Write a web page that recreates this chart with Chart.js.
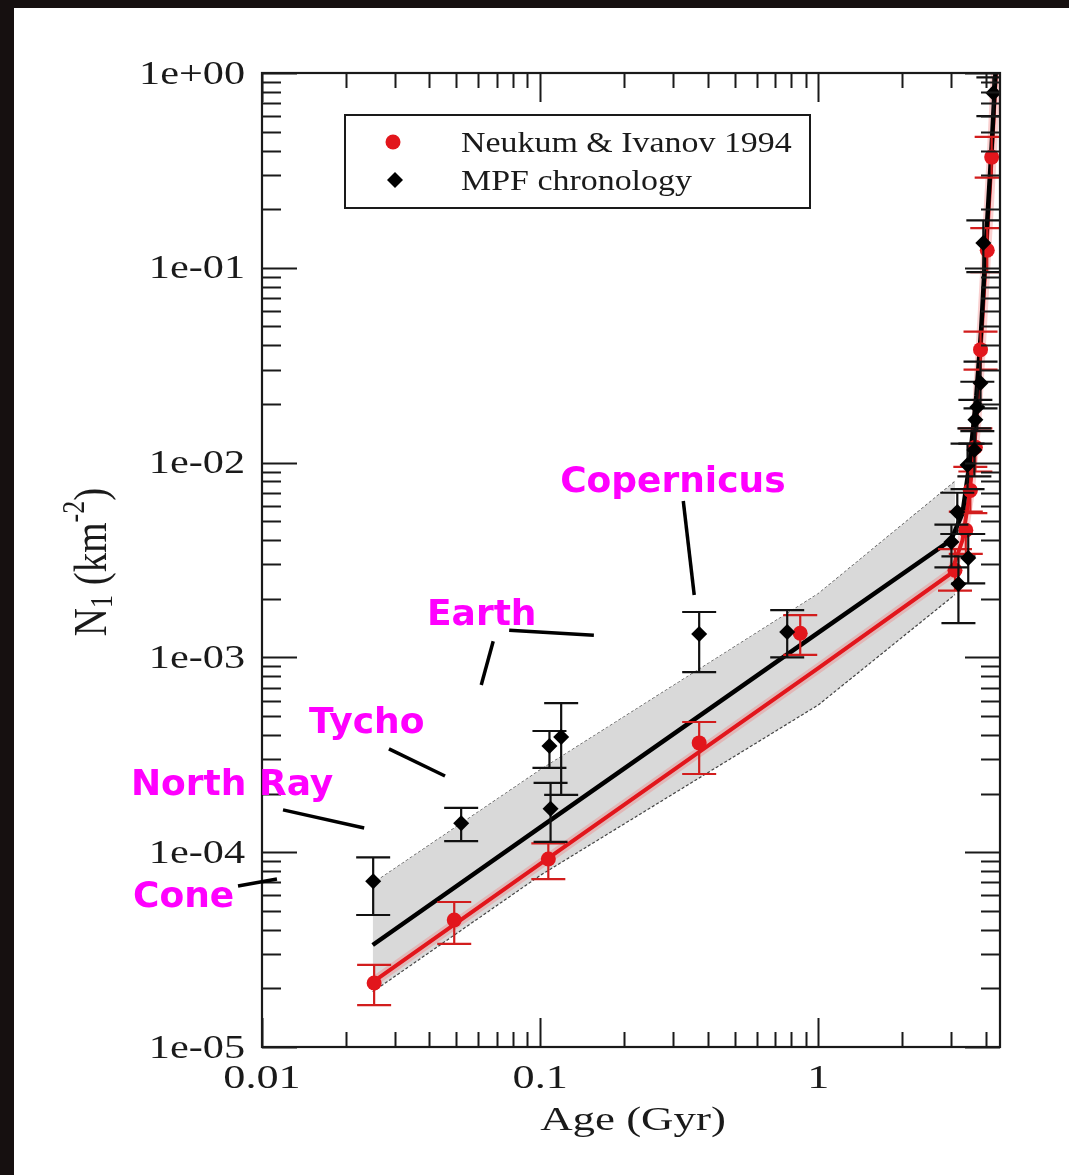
<!DOCTYPE html>
<html>
<head>
<meta charset="utf-8">
<script src="https://cdn.jsdelivr.net/npm/chart.js@4.4.0/dist/chart.umd.min.js"></script>
<style>
  html, body { margin:0; padding:0; background:#161010; }
  #wrap { position:absolute; left:14px; top:8px; width:1055px; height:1167px; background:#fff; }
  canvas { display:block; }
</style>
</head>
<body>
<div id="wrap"><canvas id="mycanvas" width="1055" height="1167"></canvas></div>
<script>
// MPF chronology points (black diamonds)
var mpfAge = [0.0251, 0.052, 0.108, 0.119, 0.109, 0.373, 0.773, 3.01, 3.19, 3.46, 3.16, 3.44, 3.64, 3.67, 3.73, 3.83, 3.92, 4.26];
var mpfN   = [7.1e-5, 1.41e-4, 3.51e-4, 3.90e-4, 1.67e-4, 1.32e-3, 1.35e-3, 3.91e-3, 2.38e-3, 3.24e-3, 5.57e-3, 9.72e-3, 1.16e-2, 1.66e-2, 1.93e-2, 2.56e-2, 0.134, 0.789];
var mpfLo  = [4.76e-5, 1.14e-4, 2.71e-4, 1.97e-4, 1.13e-4, 8.4e-4, 1.0e-3, 2.9e-3, 1.5e-3, 2.4e-3, 4.3e-3, 7.3e-3, 8.5e-3, 1.25e-2, 1.45e-2, 1.9e-2, 0.095, 0.6];
var mpfHi  = [9.4e-5, 1.69e-4, 4.19e-4, 5.83e-4, 2.27e-4, 1.71e-3, 1.75e-3, 4.8e-3, 3.3e-3, 4.3e-3, 7.0e-3, 1.25e-2, 1.5e-2, 2.1e-2, 2.6e-2, 3.3e-2, 0.175, 0.95];

// Neukum & Ivanov 1994 points (red)
var niAge = [0.0253, 0.0491, 0.107, 0.373, 0.861, 3.10, 3.39, 3.52, 3.67, 3.83, 4.05, 4.20];
var niN   = [2.13e-5, 4.49e-5, 9.23e-5, 3.64e-4, 1.33e-3, 2.8e-3, 4.5e-3, 7.2e-3, 1.2e-2, 3.8e-2, 0.123, 0.37];
var niLo  = [1.64e-5, 3.38e-5, 7.28e-5, 2.52e-4, 1.03e-3, 2.2e-3, 3.4e-3, 5.5e-3, 9.0e-3, 3.0e-2, 0.095, 0.29];
var niHi  = [2.64e-5, 5.55e-5, 1.11e-4, 4.66e-4, 1.65e-3, 3.6e-3, 5.6e-3, 9.5e-3, 1.5e-2, 4.7e-2, 0.16, 0.47];

// curves
var lineAge = [0.025, 0.1, 1, 3.0, 3.3, 3.5, 3.7, 3.85, 4.0, 4.2, 4.35];
var mpfLineN = [3.34e-5, 1.34e-4, 1.34e-3, 4.0e-3, 5.5e-3, 1.0e-2, 2.2e-2, 4.8e-2, 0.13, 0.42, 1.1];
var niLineN  = [2.15e-5, 8.7e-5, 8.8e-4, 2.7e-3, 4.0e-3, 7.0e-3, 1.6e-2, 4.2e-2, 0.11, 0.37, 1.0];

// grey uncertainty band
var bandAge   = [0.025, 0.1, 1, 3.1];
var bandUpper = [6.9e-5, 2.64e-4, 2.12e-3, 8.0e-3];
var bandLower = [1.92e-5, 7.6e-5, 5.7e-4, 2.1e-3];

var xTicks = [0.01, 0.1, 1];
var xTickLabels = ['0.01', '0.1', '1'];
var yTicks = [1e-5, 1e-4, 1e-3, 1e-2, 1e-1, 1];
var yTickLabels = ['1e-05', '1e-04', '1e-03', '1e-02', '1e-01', '1e+00'];

// crater labels: text anchor (left, baseline) and leader lines, in data units
var craterNames = ['Copernicus', 'Earth', 'Tycho', 'North Ray', 'Cone'];
var craterTextAge = [0.118, 0.0392, 0.01476, 0.00338, 0.00344];
var craterTextN   = [7.06e-3, 1.47e-3, 4.09e-4, 1.97e-4, 5.23e-5];
var leaderAge1 = [0.327, 0.0774, 0.0678, 0.0286, 0.0119, 0.0082];
var leaderN1   = [6.35e-3, 1.38e-3, 1.21e-3, 3.39e-4, 1.65e-4, 6.71e-5];
var leaderAge2 = [0.358, 0.156, 0.0614, 0.0455, 0.0233, 0.01132];
var leaderN2   = [2.09e-3, 1.30e-3, 7.21e-4, 2.46e-4, 1.33e-4, 7.29e-5];

function pts(xs, ys) {
  return xs.map(function(v, i) { return {x: v, y: ys[i]}; });
}

var RED = '#e2161c';
var SERIF = '"Liberation Serif", "Times New Roman", serif';

function sText(ctx, txt, x, y, align, size, stretch) {
  ctx.save();
  ctx.translate(x, y);
  ctx.scale(stretch, 1);
  ctx.font = size + 'px ' + SERIF;
  ctx.textAlign = align;
  ctx.fillText(txt, 0, 0);
  ctx.restore();
}

function diamond(ctx, x, y, r) {
  ctx.beginPath();
  ctx.moveTo(x, y - r); ctx.lineTo(x + r, y); ctx.lineTo(x, y + r); ctx.lineTo(x - r, y);
  ctx.closePath(); ctx.fill();
}

var decor = {
  id: 'decor',
  beforeDatasetDraw: function(chart, args) {
    var ds = chart.data.datasets[args.index];
    if (!ds.errLo) return;
    var ctx = chart.ctx, xs = chart.scales.x, ys = chart.scales.y, a = chart.chartArea;
    ctx.save();
    ctx.beginPath(); ctx.rect(a.left, a.top, a.right - a.left, a.bottom - a.top); ctx.clip();
    ctx.strokeStyle = ds.errColor; ctx.lineWidth = 2.2;
    for (var i = 0; i < ds.data.length; i++) {
      var px = xs.getPixelForValue(ds.data[i].x);
      var y1 = ys.getPixelForValue(ds.errLo[i]);
      var y2 = ys.getPixelForValue(ds.errHi[i]);
      ctx.beginPath();
      ctx.moveTo(px, y1); ctx.lineTo(px, y2);
      ctx.moveTo(px - 17, y1); ctx.lineTo(px + 17, y1);
      ctx.moveTo(px - 17, y2); ctx.lineTo(px + 17, y2);
      ctx.stroke();
    }
    ctx.restore();
  },
  afterDraw: function(chart) {
    var ctx = chart.ctx, xs = chart.scales.x, ys = chart.scales.y, a = chart.chartArea;
    ctx.save();
    ctx.strokeStyle = '#1a1a1a';
    ctx.fillStyle = '#1a1a1a';
    // frame
    ctx.lineWidth = 2.2;
    ctx.strokeRect(a.left, a.top, a.right - a.left, a.bottom - a.top);
    // ticks
    ctx.lineWidth = 2;
    var d, m, v, p, len;
    for (d = -2; d <= 0; d++) {
      for (m = 1; m <= 9; m++) {
        v = m * Math.pow(10, d);
        if (v < xs.min * 0.999 || v > xs.max) continue;
        p = Math.round(xs.getPixelForValue(v)) + 0.5;
        len = m === 1 ? 29 : 15;
        ctx.beginPath();
        ctx.moveTo(p, a.bottom); ctx.lineTo(p, a.bottom - len);
        ctx.moveTo(p, a.top); ctx.lineTo(p, a.top + len);
        ctx.stroke();
      }
    }
    for (d = -5; d <= 0; d++) {
      for (m = 1; m <= 9; m++) {
        v = m * Math.pow(10, d);
        if (v > ys.max * 1.001) continue;
        p = Math.round(ys.getPixelForValue(v)) + 0.5;
        len = m === 1 ? 35 : 19;
        ctx.beginPath();
        ctx.moveTo(a.left, p); ctx.lineTo(a.left + len, p);
        ctx.moveTo(a.right, p); ctx.lineTo(a.right - len, p);
        ctx.stroke();
      }
    }
    // tick labels
    ctx.textBaseline = 'middle';
    yTicks.forEach(function(t, i) {
      sText(ctx, yTickLabels[i], a.left - 17, ys.getPixelForValue(t) + 2, 'right', 33, 1.28);
    });
    ctx.textBaseline = 'alphabetic';
    xTicks.forEach(function(t, i) {
      sText(ctx, xTickLabels[i], xs.getPixelForValue(t), a.bottom + 41, 'center', 34, 1.3);
    });
    // axis titles
    sText(ctx, 'Age (Gyr)', a.left + 371, a.bottom + 83, 'center', 34, 1.32);
    ctx.save();
    ctx.translate(a.left - 168, 554);
    ctx.rotate(-Math.PI / 2);
    ctx.scale(1, 1.2);
    var f1 = '39px ' + SERIF, f2 = '26px ' + SERIF;
    ctx.font = f1; var wN = ctx.measureText('N').width, wK = ctx.measureText(' (km').width, wP = ctx.measureText(')').width;
    ctx.font = f2; var w1 = ctx.measureText('1').width, w2 = ctx.measureText('-2').width;
    var tot = wN + w1 + wK + w2 + wP, x0 = -tot / 2;
    ctx.textAlign = 'left'; ctx.textBaseline = 'middle';
    ctx.font = f1; ctx.fillText('N', x0, 0); x0 += wN;
    ctx.font = f2; ctx.fillText('1', x0, 8); x0 += w1;
    ctx.font = f1; ctx.fillText(' (km', x0, 0); x0 += wK;
    ctx.font = f2; ctx.fillText('-2', x0, -15); x0 += w2;
    ctx.font = f1; ctx.fillText(')', x0, 0);
    ctx.restore();
    // legend
    var lx = a.left + 83, ly = a.top + 42;
    ctx.lineWidth = 2;
    ctx.strokeRect(lx, ly, 465, 93);
    ctx.fillStyle = RED;
    ctx.beginPath(); ctx.arc(lx + 48, ly + 27, 7.5, 0, Math.PI * 2); ctx.fill();
    ctx.fillStyle = '#000';
    diamond(ctx, lx + 50, ly + 65, 8);
    ctx.fillStyle = '#1a1a1a';
    sText(ctx, chart.data.datasets[5].label, lx + 116, ly + 37, 'left', 29, 1.17);
    sText(ctx, chart.data.datasets[6].label, lx + 116, ly + 75, 'left', 29, 1.17);
    // crater annotations
    ctx.strokeStyle = '#000';
    ctx.lineWidth = 3.5;
    for (var k = 0; k < leaderAge1.length; k++) {
      ctx.beginPath();
      ctx.moveTo(xs.getPixelForValue(leaderAge1[k]), ys.getPixelForValue(leaderN1[k]));
      ctx.lineTo(xs.getPixelForValue(leaderAge2[k]), ys.getPixelForValue(leaderN2[k]));
      ctx.stroke();
    }
    ctx.fillStyle = '#ff00ff';
    ctx.font = 'bold 36px "DejaVu Sans", sans-serif';
    ctx.textAlign = 'left'; ctx.textBaseline = 'alphabetic';
    craterNames.forEach(function(n, i) {
      ctx.fillText(n, xs.getPixelForValue(craterTextAge[i]), ys.getPixelForValue(craterTextN[i]));
    });
    ctx.restore();
  }
};

var ctx = document.getElementById('mycanvas').getContext('2d');
var chart = new Chart(ctx, {
  type: 'scatter',
  data: {
    datasets: [
      { label: 'band upper', data: pts(bandAge, bandUpper), showLine: true, fill: false,
        borderColor: '#444', borderWidth: 1.2, borderDash: [3, 2], pointRadius: 0, order: 7 },
      { label: 'band lower', data: pts(bandAge, bandLower), showLine: true, fill: '-1',
        backgroundColor: 'rgb(217,217,217)', borderColor: '#444', borderWidth: 1.2, borderDash: [3, 2],
        pointRadius: 0, order: 6 },
      { label: 'halo', data: pts(lineAge, niLineN), showLine: true, borderColor: 'rgba(240,120,120,0.35)',
        borderWidth: 10, pointRadius: 0, order: 5 },
      { label: 'NI curve', data: pts(lineAge, niLineN), showLine: true, borderColor: RED,
        borderWidth: 4, pointRadius: 0, order: 4 },
      { label: 'MPF curve', data: pts(lineAge, mpfLineN), showLine: true, borderColor: '#000',
        borderWidth: 4.5, pointRadius: 0, order: 3 },
      { label: 'Neukum & Ivanov 1994', data: pts(niAge, niN), errLo: niLo, errHi: niHi, errColor: '#d21d1d',
        pointStyle: 'circle', pointRadius: 7.5, backgroundColor: RED, borderColor: RED, borderWidth: 0, order: 2 },
      { label: 'MPF chronology', data: pts(mpfAge, mpfN), errLo: mpfLo, errHi: mpfHi, errColor: '#111',
        pointStyle: 'rectRot', pointRadius: 8, backgroundColor: '#000', borderColor: '#000', borderWidth: 0, order: 1 }
    ]
  },
  options: {
    responsive: false,
    animation: false,
    events: [],
    layout: { padding: { left: 248, top: 65, right: 69, bottom: 128 } },
    plugins: { legend: { display: false }, tooltip: { enabled: false } },
    scales: {
      x: { type: 'logarithmic', min: 0.01, max: 4.5, display: false },
      y: { type: 'logarithmic', min: 1e-5, max: 1, display: false }
    }
  },
  plugins: [decor]
});
</script>
</body>
</html>
